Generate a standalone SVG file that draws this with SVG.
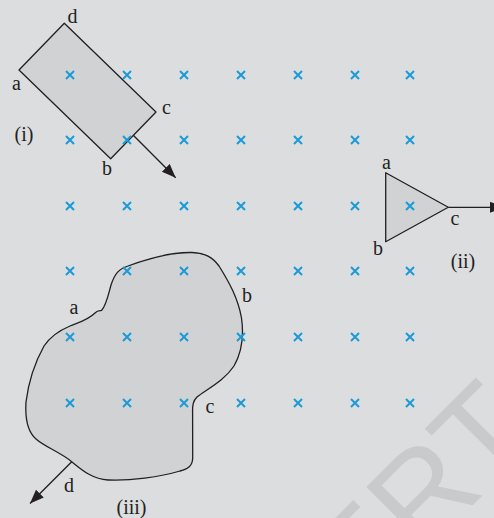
<svg xmlns="http://www.w3.org/2000/svg" width="494" height="518" viewBox="0 0 494 518">
<defs>
<style>
.loop{fill:#d1d2d4;stroke:#231f20;stroke-width:1.3;stroke-linejoin:round}
.lbl{font-family:"Liberation Serif","DejaVu Serif",serif;font-size:20px;fill:#231f20;text-anchor:middle}
.cx{stroke:#1a9ad6;stroke-width:2;fill:none}
.conn{stroke:#231f20;stroke-width:1.3;fill:none;marker-end:url(#ah)}
.wm{font-family:"Liberation Sans","DejaVu Sans",sans-serif;font-size:128px;fill:#c9cacc}
</style>
<marker id="ah" markerUnits="userSpaceOnUse" markerWidth="15" markerHeight="12" refX="14" refY="5.5" orient="auto">
<path d="M0,0 L14,5.5 L0,11 Z" fill="#231f20"/>
</marker>
<path id="x" d="M-4,-4 L4,4 M4,-4 L-4,4"/>
</defs>
<rect width="494" height="518" fill="#dcdddf"/>
<g id="watermark">
<text class="wm" transform="translate(361,617) rotate(-45)">ERT</text>
</g>
<g id="loop-i">
<path class="loop" d="M19,70 L64.3,23.3 L156,112 L110.7,158.7 Z"/>
<text class="lbl" x="72.5" y="23">d</text>
<text class="lbl" x="16.5" y="90">a</text>
<text class="lbl" x="166.5" y="114">c</text>
<text class="lbl" x="107" y="175">b</text>
<text class="lbl" x="24" y="141">(i)</text>
</g>
<g id="loop-ii">
<path class="loop" d="M385.7,172.7 L448.3,207.3 L385.7,241.7 Z"/>
<text class="lbl" x="386.5" y="169">a</text>
<text class="lbl" x="378" y="255">b</text>
<text class="lbl" x="455" y="225">c</text>
<text class="lbl" x="463" y="268">(ii)</text>
</g>
<g id="loop-iii">
<path class="loop" d="M101.5,310.5 C106,306 108,296 111,285 C115,273 119,269 128,266 C147,259 170,252 192,252.5 C206,253 213,258 219,266 C229,282 238,298 241.5,318 C244,336 242,352 234,366 C224,381 207,389 197,397 C193,401 192.5,405 192.6,412 L192.7,458 C192.5,466 188,469 180,471 C160,477 130,481 108,480 C92,479 82,470 71.7,461.7 C60,452 45,447 36,439 C27,431 25,418 26,402 C28,386 34,364 44,346 C50,337 58,331 70,326 C80,322 88,320 95,313 C98,310 100,311 101.5,310.5 Z"/>
<text class="lbl" x="74" y="314">a</text>
<text class="lbl" x="247" y="302">b</text>
<text class="lbl" x="210" y="413">c</text>
<text class="lbl" x="69" y="492">d</text>
<text class="lbl" x="131.5" y="514">(iii)</text>
</g>
<g id="connectors">
<path class="conn" d="M133.3,135.3 L175.7,177.7"/>
<path class="conn" d="M448.3,207.3 L504,207.3"/>
<path class="conn" d="M71.7,461.7 L30,503.5"/>
</g>
<g id="field" class="cx">
<use href="#x" x="70" y="75"/><use href="#x" x="127" y="75"/><use href="#x" x="184" y="75"/><use href="#x" x="241" y="75"/><use href="#x" x="298" y="75"/><use href="#x" x="355" y="75"/><use href="#x" x="410" y="75"/>
<use href="#x" x="70" y="140"/><use href="#x" x="127" y="140"/><use href="#x" x="184" y="140"/><use href="#x" x="241" y="140"/><use href="#x" x="298" y="140"/><use href="#x" x="355" y="140"/><use href="#x" x="410" y="140"/>
<use href="#x" x="70" y="206"/><use href="#x" x="127" y="206"/><use href="#x" x="184" y="206"/><use href="#x" x="241" y="206"/><use href="#x" x="298" y="206"/><use href="#x" x="355" y="206"/><use href="#x" x="410" y="206"/>
<use href="#x" x="70" y="271"/><use href="#x" x="127" y="271"/><use href="#x" x="184" y="271"/><use href="#x" x="241" y="271"/><use href="#x" x="298" y="271"/><use href="#x" x="355" y="271"/><use href="#x" x="410" y="271"/>
<use href="#x" x="70" y="337"/><use href="#x" x="127" y="337"/><use href="#x" x="184" y="337"/><use href="#x" x="241" y="337"/><use href="#x" x="298" y="337"/><use href="#x" x="355" y="337"/><use href="#x" x="410" y="337"/>
<use href="#x" x="70" y="403"/><use href="#x" x="127" y="403"/><use href="#x" x="184" y="403"/><use href="#x" x="241" y="403"/><use href="#x" x="298" y="403"/><use href="#x" x="355" y="403"/><use href="#x" x="410" y="403"/>
</g>
</svg>
